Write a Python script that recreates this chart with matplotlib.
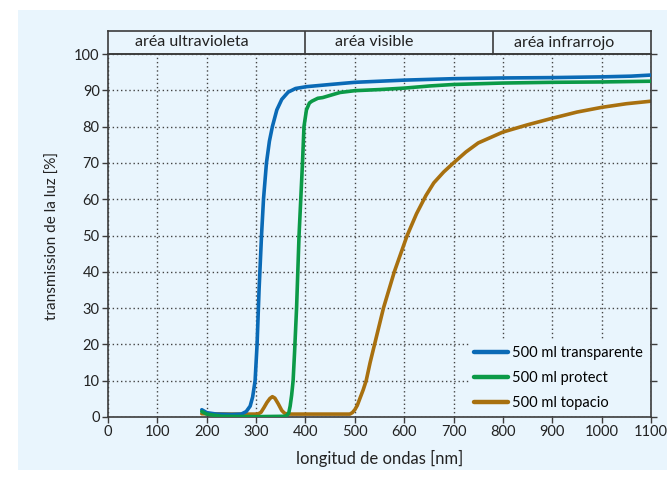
import matplotlib
matplotlib.use("Agg")
import matplotlib.pyplot as plt
from matplotlib.patches import Rectangle

plt.rcParams['font.family'] = ['Lato', 'DejaVu Sans']
plt.rcParams['font.size'] = 10

# Light transmission of 500 ml bottles versus wavelength
wl_transparente = [190, 200, 220, 250, 270, 280, 288, 293, 298, 302, 306, 311, 315, 321, 327,
                   333, 342, 352, 365, 380, 402, 450, 500, 600, 700, 800, 900, 1000, 1060, 1100]
tr_transparente = [2.0, 1.2, 0.8, 0.7, 0.8, 1.5, 3.0, 5.5, 10, 20, 35, 50, 60, 70, 76,
                   80, 84.6, 87.5, 89.5, 90.5, 91.0, 91.6, 92.2, 92.8, 93.2, 93.4, 93.5, 93.7, 93.9, 94.2]

wl_protect = [190, 200, 230, 300, 360, 366, 369, 372, 375, 378, 382, 387, 394, 397, 402, 408,
              413, 425, 435, 450, 470, 500, 550, 600, 652, 700, 800, 900, 1000, 1100]
tr_protect = [1.5, 0.8, 0.2, 0.1, 0.2, 1.0, 3.0, 6.0, 10, 18, 30, 50, 70, 80, 84.6, 86.5,
              87.0, 87.8, 88.0, 88.6, 89.4, 89.9, 90.2, 90.6, 91.2, 91.6, 92.0, 92.2, 92.3, 92.5]

wl_topacio = [190, 250, 300, 305, 310, 316, 322, 328, 333, 338, 345, 352, 358, 365, 400, 490,
              495, 500, 505, 510, 517, 523, 531, 540, 549, 558, 569, 580, 593, 606, 625, 644,
              660, 680, 700, 725, 750, 800, 850, 900, 950, 1000, 1050, 1100]
tr_topacio = [0.9, 0.8, 0.8, 0.9, 1.3, 2.6, 4.0, 5.1, 5.6, 5.2, 3.6, 1.8, 1.0, 0.8, 0.8, 0.8,
              1.2, 2.0, 3.2, 5.0, 7.5, 10, 15, 20, 25, 30, 35, 40, 45, 50, 56, 61,
              64.5, 67.5, 70, 73, 75.5, 78.5, 80.5, 82.3, 84, 85.3, 86.3, 87.0]

series_labels = ['500 ml transparente', '500 ml protect', '500 ml topacio']
series_colors = ['#0a6ab6', '#0b9a47', '#a8700f']

x_ticks = list(range(0, 1101, 100))
y_ticks = list(range(0, 101, 10))

region_bounds = [0, 400, 780, 1100]
region_labels = ['aréa ultravioleta', 'aréa visible', 'aréa infrarrojo']
region_label_x = [170, 540, 925]

panel_color = '#e9f5fd'

W, H = 667, 479
fig = plt.figure(figsize=(W / 100, H / 100), dpi=100)
fig.patch.set_facecolor('white')

# pale panel behind the whole chart
panel = Rectangle((18 / W, 1 - 470 / H), 1 - 18 / W, (470 - 10) / H,
                  transform=fig.transFigure, facecolor=panel_color,
                  edgecolor='none', zorder=-10)
fig.add_artist(panel)

left, right = 108 / W, 651 / W
bottom, top = 1 - 417 / H, 1 - 54 / H
band_top = 1 - 31 / H

ax = fig.add_axes([left, bottom, right - left, top - bottom])
ax.set_facecolor('none')
edge = '#3c3c3c'

ax.set_xlim(0, 1100)
ax.set_ylim(0, 100)
ax.set_xticks(x_ticks)
ax.set_yticks(y_ticks)
ax.tick_params(direction='out', length=4, width=1.0, color=edge, labelsize=10.5,
               pad=2, right=True, labelright=False, labelcolor='#222222')
for s in ['left', 'right', 'bottom', 'top']:
    ax.spines[s].set_color(edge)
    ax.spines[s].set_linewidth(1.2)

ax.grid(True, color='#444444', linestyle=(0, (1, 2)), linewidth=1.0)
ax.set_axisbelow(True)

for wl, tr, lab, col in zip([wl_transparente, wl_protect, wl_topacio],
                            [tr_transparente, tr_protect, tr_topacio],
                            series_labels, series_colors):
    ax.plot(wl, tr, color=col, lw=2.6, label=lab, solid_capstyle='round',
            solid_joinstyle='round', zorder=3)

# topacio sits under the others along the baseline
ax.lines[2].set_zorder(2.5)

# legend box hides the grid behind it
leg = ax.legend(loc='lower right', frameon=True, fontsize=10.5, handlelength=2.3,
                handletextpad=0.3, labelspacing=0.78, borderaxespad=0.0,
                borderpad=0.35, bbox_to_anchor=(0.995, 0.004), fancybox=False)
leg.get_frame().set_facecolor(panel_color)
leg.get_frame().set_edgecolor('none')
leg.get_frame().set_alpha(1.0)
for h in leg.get_lines():
    h.set_linewidth(3.2)

ax.set_xlabel('longitud de ondas [nm]', fontsize=12, labelpad=8, color='#222222')
ax.set_ylabel('transmission de la luz [%]', fontsize=11, labelpad=10, color='#222222')

# spectral region band above the plot
band = fig.add_axes([left, top, right - left, band_top - top])
band.set_facecolor('none')
band.set_xlim(0, 1100)
band.set_ylim(0, 1)
band.set_xticks([])
band.set_yticks([])
for s in ['left', 'right', 'bottom', 'top']:
    band.spines[s].set_color(edge)
    band.spines[s].set_linewidth(1.2)
for b in region_bounds[1:-1]:
    band.axvline(b, color=edge, lw=1.2)
for xt, lab in zip(region_label_x, region_labels):
    band.text(xt, 0.5, lab, ha='center', va='center', fontsize=11.5, color='#222222')

fig.savefig('out.png', dpi=100, facecolor=fig.get_facecolor())
